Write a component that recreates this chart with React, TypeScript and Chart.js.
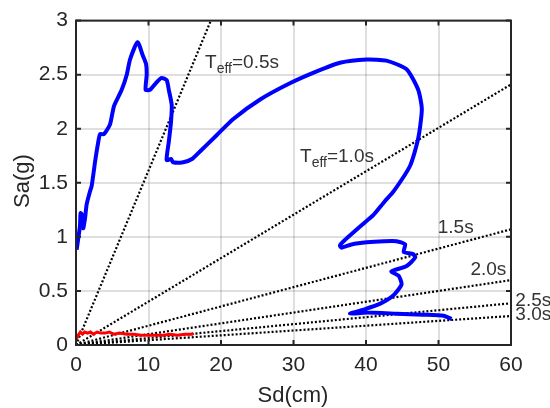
import { useEffect, useRef } from 'react';
import { Chart, registerables } from 'chart.js';
Chart.register(...registerables);

// Blue capacity/demand curve (Sd cm, Sa g)
const blueSd = [0.09, 0.32, 0.55, 0.64, 0.92, 1.0, 1.24, 1.47, 1.93, 2.16, 2.48, 2.62, 3.0, 3.31, 3.86, 4.69, 5.24, 6.3, 7.0, 7.45, 8.5, 9.2, 9.66, 9.75, 9.6, 10.2, 11.0, 11.8, 12.5, 12.8, 13.2, 13.1, 12.8, 12.5, 13.1, 13.4, 14.8, 16.0, 17.1, 19.4, 21.7, 25.4, 29.5, 33.2, 36.4, 40.1, 42.8, 45.6, 47.2, 47.7, 47.2, 46.1, 43.8, 42.6, 41.0, 39.6, 36.9, 36.4, 36.6, 38.0, 40.1, 42.5, 44.2, 45.4, 45.2, 46.5, 46.8, 45.6, 43.5, 44.5, 44.9, 43.8, 41.9, 39.8, 37.8, 40.1, 44.2, 47.9, 50.7, 51.8];
const blueSa = [0.88, 0.99, 1.10, 1.22, 1.19, 1.08, 1.17, 1.30, 1.42, 1.47, 1.62, 1.69, 1.85, 1.95, 1.95, 2.04, 2.21, 2.36, 2.50, 2.64, 2.80, 2.68, 2.60, 2.50, 2.36, 2.36, 2.42, 2.47, 2.45, 2.36, 2.22, 2.06, 1.88, 1.71, 1.72, 1.69, 1.69, 1.72, 1.79, 1.94, 2.09, 2.27, 2.42, 2.53, 2.61, 2.64, 2.63, 2.55, 2.36, 2.18, 1.91, 1.66, 1.42, 1.33, 1.20, 1.12, 0.96, 0.92, 0.90, 0.93, 0.95, 0.96, 0.96, 0.93, 0.86, 0.84, 0.81, 0.73, 0.68, 0.64, 0.56, 0.46, 0.38, 0.33, 0.29, 0.30, 0.29, 0.28, 0.27, 0.24];

// Red curve
const redSd = [0, 0.3, 0.6, 0.9, 1.2, 1.6, 2.0, 2.4, 2.9, 3.4, 4.0, 4.6, 5.2, 6.0, 7.0, 8.0, 9.0, 10.0, 11.0, 12.0, 13.0, 14.0, 15.0, 16.0, 16.2];
const redSa = [0.05, 0.09, 0.12, 0.10, 0.12, 0.11, 0.12, 0.10, 0.12, 0.11, 0.11, 0.12, 0.10, 0.11, 0.10, 0.10, 0.09, 0.09, 0.09, 0.09, 0.10, 0.09, 0.10, 0.10, 0.11];

// Constant-period lines (from origin to end point)
const teffNames = ['0.5s', '1.0s', '1.5s', '2.0s', '2.5s', '3.0s'];
const teffEndSd = [18.6, 60, 60, 60, 60, 60];
const teffEndSa = [3.0, 2.41, 1.07, 0.60, 0.386, 0.268];
const teffLabelSd = [17.8, 30.9, 49.9, 54.4, 60.6, 60.6];
const teffLabelSa = [2.61, 1.74, 1.08, 0.70, 0.41, 0.28];
const teffLabelPrefix = [true, true, false, false, false, false];

const xTicks = [0, 10, 20, 30, 40, 50, 60];
const yTicks = [0, 0.5, 1, 1.5, 2, 2.5, 3];

const FONT = '"Liberation Sans", Arial, sans-serif';
const TXT = '#262626';

export default function App() {
  const ref = useRef<HTMLCanvasElement>(null);
  useEffect(() => {
    const canvas = ref.current!;
    const pts = (xs: number[], ys: number[]) => xs.map((x, i) => ({ x, y: ys[i] }));

    const teffSets = teffNames.map((n, i) => ({
      label: n,
      data: [{ x: 0, y: 0 }, { x: teffEndSd[i], y: teffEndSa[i] }],
      showLine: true,
      borderColor: '#000',
      borderWidth: 2.2,
      borderDash: [2, 2],
      pointRadius: 0,
      order: 5,
    }));

    const frame = {
      id: 'frame',
      afterDraw(chart: any) {
        const { ctx, chartArea: a, scales } = chart;
        const xs = scales.x, ys = scales.y;
        ctx.save();
        ctx.strokeStyle = TXT;
        ctx.lineWidth = 2;
        ctx.strokeRect(a.left, a.top, a.right - a.left, a.bottom - a.top);
        ctx.beginPath();
        const tl = 5;
        xTicks.forEach((v) => {
          const px = xs.getPixelForValue(v);
          ctx.moveTo(px, a.bottom); ctx.lineTo(px, a.bottom - tl);
          ctx.moveTo(px, a.top); ctx.lineTo(px, a.top + tl);
        });
        yTicks.forEach((v) => {
          const py = ys.getPixelForValue(v);
          ctx.moveTo(a.left, py); ctx.lineTo(a.left + tl, py);
          ctx.moveTo(a.right, py); ctx.lineTo(a.right - tl, py);
        });
        ctx.stroke();

        // labels
        ctx.fillStyle = '#333';
        ctx.textBaseline = 'middle';
        ctx.textAlign = 'left';
        teffNames.forEach((n, i) => {
          let x = xs.getPixelForValue(teffLabelSd[i]);
          const y = ys.getPixelForValue(teffLabelSa[i]);
          ctx.font = `19px ${FONT}`;
          if (teffLabelPrefix[i]) {
            ctx.fillText('T', x, y);
            x += ctx.measureText('T').width;
            ctx.font = `14px ${FONT}`;
            ctx.fillText('eff', x, y + 6);
            x += ctx.measureText('eff').width;
            ctx.font = `19px ${FONT}`;
            ctx.fillText('=' + n, x, y);
          } else {
            ctx.fillText(n, x, y);
          }
        });

        // axis titles
        ctx.fillStyle = TXT;
        ctx.font = `22px ${FONT}`;
        ctx.textAlign = 'center';
        ctx.fillText('Sd(cm)', 293, 396);
        ctx.translate(23, 181);
        ctx.rotate(-Math.PI / 2);
        ctx.fillText('Sa(g)', 0, 0);
        ctx.restore();
      },
    };

    const chart = new Chart(canvas, {
      type: 'scatter',
      data: {
        datasets: [
          {
            label: 'red',
            data: pts(redSd, redSa),
            showLine: true,
            borderColor: '#ff0000',
            borderWidth: 3,
            pointRadius: 0,
            order: 1,
          },
          {
            label: 'blue',
            data: pts(blueSd, blueSa),
            showLine: true,
            borderColor: '#0000ff',
            borderWidth: 4,
            pointRadius: 0,
            tension: 0.2,
            order: 2,
          },
          ...teffSets,
        ] as any,
      },
      options: {
        responsive: false,
        animation: false,
        devicePixelRatio: 1,
        layout: { padding: { top: 17, right: 39, left: 0, bottom: 0 } },
        plugins: { legend: { display: false }, tooltip: { enabled: false } },
        scales: {
          x: {
            type: 'linear',
            min: 0,
            max: 60,
            afterFit: (s: any) => { s.height = 63; },
            afterBuildTicks: (s: any) => { s.ticks = xTicks.map((v) => ({ value: v })); },
            ticks: { color: TXT, font: { family: FONT, size: 21 }, padding: 8, callback: (v: any) => String(v) },
            grid: { color: 'rgba(38,38,38,0.15)', lineWidth: 2, drawTicks: false },
            border: { display: false },
          },
          y: {
            type: 'linear',
            min: 0,
            max: 3,
            afterFit: (s: any) => { s.width = 76; },
            afterBuildTicks: (s: any) => { s.ticks = yTicks.map((v) => ({ value: v })); },
            ticks: { color: TXT, font: { family: FONT, size: 21 }, padding: 8, callback: (v: any) => String(v) },
            grid: { color: 'rgba(38,38,38,0.15)', lineWidth: 2, drawTicks: false },
            border: { display: false },
          },
        },
      },
      plugins: [frame],
    });
    return () => chart.destroy();
  }, []);

  return (
    <div style={{ position: 'fixed', left: 0, top: 0, width: 550, height: 408, background: '#fff' }}>
      <canvas ref={ref} width={550} height={408} />
    </div>
  );
}
